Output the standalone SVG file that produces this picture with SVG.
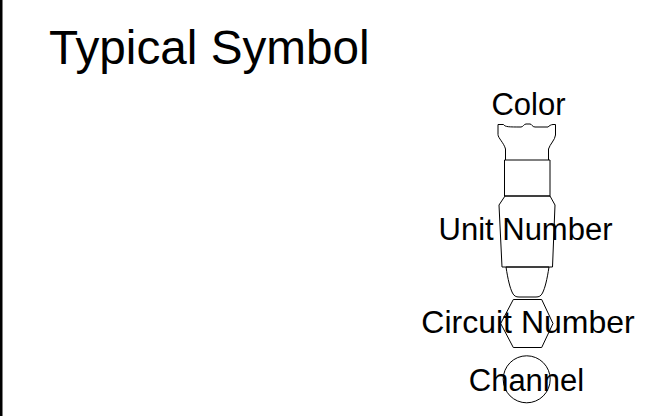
<svg xmlns="http://www.w3.org/2000/svg" width="658" height="416" viewBox="0 0 658 416">
<style>
.s{fill:none;stroke:#000;stroke-width:1}
text{font-family:"Liberation Sans",Arial,sans-serif;fill:#000}
.l{font-size:31px;text-anchor:middle}
</style>
<rect width="658" height="416" fill="#fff"/>
<rect id="border" x="0" y="0" width="2.500" height="416" fill="#000"/>
<text id="title" x="49" y="64" font-size="47.700">Typical Symbol</text>
<g id="symbol">
<path class="s" d="M505.500 160V149C504 143 498 138 498 134.500V124.500H503.500C505 127 509 127 521 127C523 127 524 124 526 124H530C532 124 532 127 535 127H548C549 126 551 124.500 553 124.500H555.500V135C555 140 550 144 548.500 149V160"/>
<path class="s" d="M504.500 160H550V196H504.500Z"/>
<path class="s" d="M505 196H550L555 205L552.500 267H502L499 205Z"/>
<path class="s" d="M506 267H549C547 280 545 288 542.500 293C541 296 539 297 536 297H519C516 297 514 296 512.500 293C510 288 508 280 506 267Z"/>
<path class="s" d="M513.300 299.500H541.700L553 323.500L541.700 347.500H513.300L500.700 323.500Z"/>
<circle class="s" cx="526.700" cy="379.300" r="23.500"/>
</g>
<g id="labels">
<text class="l" x="528.500" y="115">Color</text>
<text class="l" x="525.500" y="240">Unit Number</text>
<text class="l" x="528" y="333" style="font-size:32px">Circuit Number</text>
<text class="l" x="526.500" y="390.500">Channel</text>
</g>
</svg>
